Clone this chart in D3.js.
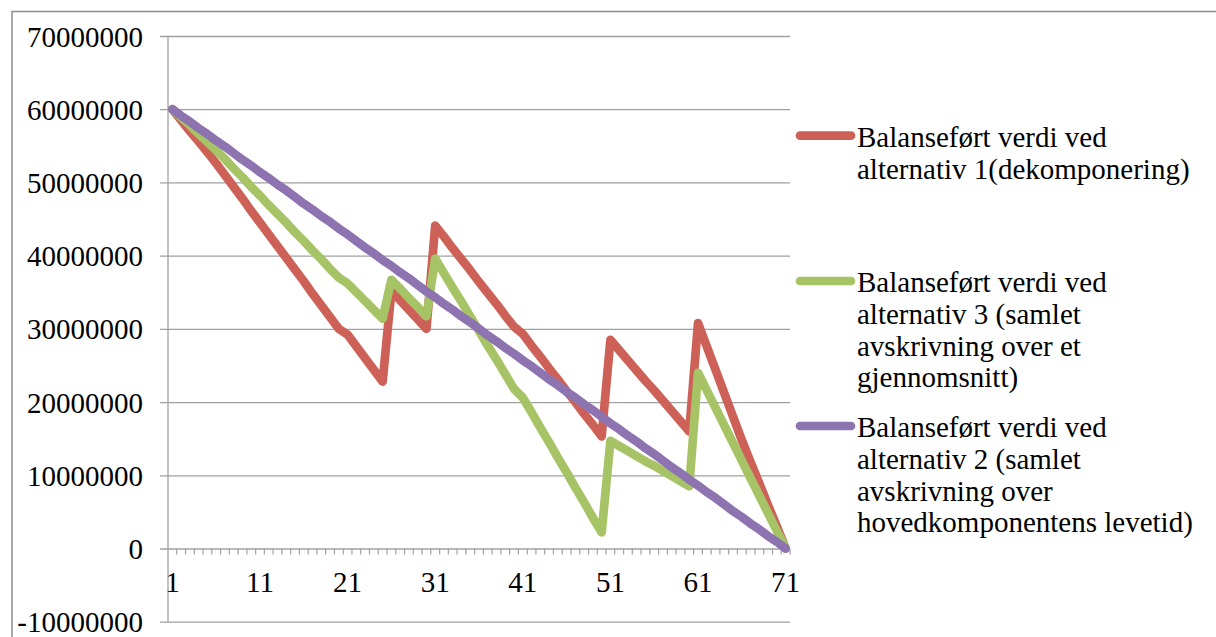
<!DOCTYPE html>
<html>
<head>
<meta charset="utf-8">
<script src="https://cdn.jsdelivr.net/npm/d3@7"></script>
<style>
  html, body { margin: 0; padding: 0; background: #fff; }
  svg { display: block; }
  text { font-family: "Liberation Serif", "DejaVu Serif", serif; fill: #000; }
</style>
</head>
<body>
<script>
// ---- data (values in millions) ----
const categories = [1,2,3,4,5,6,7,8,9,10,11,12,13,14,15,16,17,18,19,20,21,22,23,24,25,26,27,28,29,30,31,32,33,34,35,36,37,38,39,40,41,42,43,44,45,46,47,48,49,50,51,52,53,54,55,56,57,58,59,60,61,62,63,64,65,66,67,68,69,70,71];

const alt1 = [60.0,58.5,57.0,55.6,54.1,52.6,51.0,49.4,47.8,46.1,44.5,42.9,41.3,39.7,38.1,36.5,34.8,33.2,31.6,30.0,
  29.2,27.6,26.0,24.4,22.8,35.2,33.9,32.6,31.3,30.0,44.1,42.6,41.0,39.5,38.0,36.4,34.9,33.4,31.8,30.3,
  29.3,27.7,26.2,24.6,23.1,21.5,20.0,18.4,16.9,15.3,28.5,27.1,25.7,24.3,22.9,21.6,20.2,18.8,17.4,16.0,
  30.8,27.6,24.4,21.2,18.0,14.8,11.8,8.9,5.9,3.0,0.0];

const alt3 = [60.0,58.9,57.8,56.6,55.5,54.4,53.2,51.9,50.7,49.4,48.2,46.9,45.7,44.5,43.2,42.0,40.7,39.5,38.2,37.0,
  36.2,35.0,33.8,32.6,31.4,36.7,35.5,34.2,33.0,31.7,39.6,37.6,35.6,33.7,31.7,29.7,27.7,25.8,23.8,21.8,
  20.6,18.6,16.5,14.5,12.4,10.4,8.3,6.3,4.2,2.2,14.7,14.0,13.3,12.6,11.9,11.3,10.6,9.9,9.2,8.5,
  24.0,21.6,19.2,16.8,14.4,12.0,9.6,7.2,4.8,2.4,0.0];

const alt2 = [60.0,59.1,58.3,57.4,56.6,55.7,54.9,54.0,53.1,52.3,51.4,50.6,49.7,48.9,48.0,47.1,46.3,45.4,44.6,43.7,
  42.9,42.0,41.1,40.3,39.4,38.6,37.7,36.9,36.0,35.1,34.3,33.4,32.6,31.7,30.9,30.0,29.1,28.3,27.4,26.6,
  25.7,24.9,24.0,23.1,22.3,21.4,20.6,19.7,18.9,18.0,17.1,16.3,15.4,14.6,13.7,12.9,12.0,11.1,10.3,9.4,
  8.6,7.7,6.9,6.0,5.1,4.3,3.4,2.6,1.7,0.9,0.0];

const yTicks = [-10000000,0,10000000,20000000,30000000,40000000,50000000,60000000,70000000];
const xTickLabels = [1,11,21,31,41,51,61,71];

const seriesNames = [
  ["Balanseført verdi ved", "alternativ 1(dekomponering)"],
  ["Balanseført verdi ved", "alternativ 3 (samlet", "avskrivning over et", "gjennomsnitt)"],
  ["Balanseført verdi ved", "alternativ 2 (samlet", "avskrivning over", "hovedkomponentens levetid)"]
];
const seriesValues = [alt1, alt3, alt2];
const seriesColors = ["#CD6157", "#A6C365", "#8D74B1"];

// ---- layout ----
const W = 1216, H = 637;
const plot = { left: 168, right: 790, top: 36, bottom: 621.7 };
const fontSize = "29px";

const svg = d3.select("body").append("svg").attr("width", W).attr("height", H);

// outer chart border
svg.append("rect")
  .attr("x", 12).attr("y", 11.5).attr("width", W + 20).attr("height", H + 20)
  .attr("fill", "none").attr("stroke", "#8c8c8c").attr("stroke-width", 1.5);

const x = d3.scaleBand().domain(categories).range([plot.left, plot.right]).paddingInner(0).paddingOuter(0);
const xc = d => x(d) + x.bandwidth() / 2;
const y = d3.scaleLinear().domain([-10000000, 70000000]).range([plot.bottom, plot.top]);

const gridColor = "#a0a0a0";

// gridlines + y axis ticks
const yAxis = d3.axisLeft(y).tickValues(yTicks).tickFormat(d => String(d))
  .tickSizeInner(-(plot.right - plot.left + 8)).tickSizeOuter(0).tickPadding(0);
const gy = svg.append("g").attr("transform", `translate(${plot.left - 8},0)`).call(yAxis)
  .attr("font-family", null).attr("font-size", null);
gy.select(".domain").remove();
gy.selectAll(".tick line").attr("stroke", gridColor).attr("stroke-width", 1.3)
  .attr("x1", 0).attr("x2", plot.right - plot.left + 8);
gy.selectAll(".tick text")
  .attr("x", -17).attr("dy", null).attr("y", 10)
  .attr("text-anchor", "end")
  .style("font-size", fontSize);

// y axis line
svg.append("line")
  .attr("x1", plot.left).attr("x2", plot.left)
  .attr("y1", plot.top).attr("y2", plot.bottom)
  .attr("stroke", gridColor).attr("stroke-width", 1.3);

// x axis at zero with minor ticks at category boundaries
const y0 = y(0);
const boundaries = categories.map(c => x(c)).concat([plot.right]);
svg.append("g").selectAll("line").data(boundaries.slice(1)).join("line")
  .attr("x1", d => d).attr("x2", d => d)
  .attr("y1", y0).attr("y2", y0 + 6)
  .attr("stroke", gridColor).attr("stroke-width", 1.2);

// x labels
svg.append("g").selectAll("text").data(xTickLabels).join("text")
  .attr("x", d => xc(d)).attr("y", y0 + 43.5)
  .attr("text-anchor", "middle")
  .style("font-size", fontSize)
  .text(d => d);

// lines
const line = d3.line().x((d, i) => xc(categories[i])).y(d => y(d * 1e6));
seriesValues.forEach((vals, k) => {
  svg.append("path").datum(vals)
    .attr("d", line)
    .attr("fill", "none")
    .attr("stroke", seriesColors[k])
    .attr("stroke-width", 8.7)
    .attr("stroke-linejoin", "round")
    .attr("stroke-linecap", "round");
});

// legend
const legendTop = [135.7, 281, 426];
const lineH = 31.8;
seriesNames.forEach((lines, k) => {
  const g = svg.append("g");
  g.append("line")
    .attr("x1", 800).attr("x2", 851)
    .attr("y1", legendTop[k]).attr("y2", legendTop[k])
    .attr("stroke", seriesColors[k]).attr("stroke-width", 8.7).attr("stroke-linecap", "round");
  g.selectAll("text").data(lines).join("text")
    .attr("x", 857).attr("y", (d, i) => legendTop[k] + 11 + i * lineH)
    .style("font-size", fontSize)
    .text(d => d);
});
</script>
</body>
</html>
